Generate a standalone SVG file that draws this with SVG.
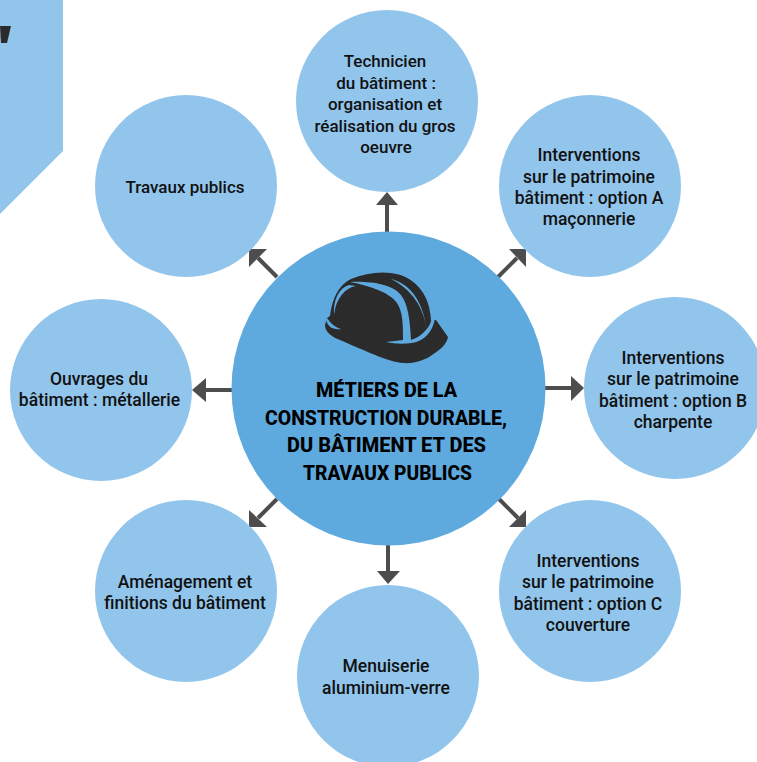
<svg xmlns="http://www.w3.org/2000/svg" width="757" height="762" viewBox="0 0 757 762">
<style>
.s{fill:#92c5ec}
.t{font-family:Roboto,"Liberation Sans",sans-serif;font-size:17.5px;font-weight:500;fill:#111;text-anchor:middle}
.n{font-size:17px}
.h{font-family:Roboto,"Liberation Sans",sans-serif;font-size:21px;font-weight:800;fill:#000;text-anchor:middle}
.c line{stroke:#4d4d4d;stroke-width:4}
.c path{fill:#4d4d4d}
.d{fill:#2b2b2b}
.b{fill:#5ea9de}
</style>
<g id="banner"><path class="s" d="M0 0H63V151L0 214Z"/><path class="d" d="M0 26H11L7 43H1Z"/></g>
<g id="connectors" class="c">
<line x1="387" y1="232" x2="387" y2="203"/><path d="M376 205L387 192L398 205Z"/>
<line x1="498" y1="277" x2="517" y2="258"/><path d="M509 249H526V267Z"/>
<line x1="545" y1="388" x2="573" y2="388"/><path d="M571 376L584 388L571 401Z"/>
<line x1="499" y1="499" x2="518" y2="518"/><path d="M526 510V527H509Z"/>
<line x1="388" y1="545" x2="388" y2="573"/><path d="M377 571L388 584L400 571Z"/>
<line x1="277" y1="499" x2="258" y2="518"/><path d="M267 527H249V510Z"/>
<line x1="232" y1="390" x2="204" y2="390"/><path d="M206 378L192 390L206 402Z"/>
<line x1="277" y1="277" x2="258" y2="258"/><path d="M267 249H249V267Z"/>
</g>
<g id="centre"><circle cx="388.500" cy="388.500" r="157" class="b"/>
<g id="helmet">
<path class="d" d="M330 316C332 298 339 285 351 279C372 270 398 270 412 281C424 290 430 303 431 320L436 320L448 337C447 344 440 350 432 355C425 360 414 364 403 363C390 362 372 354 340 340C332 337 325 332 325 325L327 318Z"/>
<path class="b" d="M350 282C370 281 392 284 401 295C408 304 410 320 411 340C418 338 426 332 430 324L432 318H435C433 332 424 341 412 343C403 344 395 344 386 342C392 341 398 341 403 340C403 325 403 312 397 303C389 292 370 286 350 282Z"/>
<path class="b" d="M356 286C345 288 336 298 334 315C333 300 339 288 349 285Z"/>
<path class="b" d="M391 279C407 283 422 296 427 330C423 306 412 290 391 279Z"/>
<path class="b" d="M327 318C331 324 335 327 341 329C333 330 328 327 326 320Z"/>
</g>
<text class="h"><tspan x="386.500" y="397" textLength="141" lengthAdjust="spacingAndGlyphs">MÉTIERS DE LA</tspan><tspan x="386" y="425" textLength="242" lengthAdjust="spacingAndGlyphs">CONSTRUCTION DURABLE,</tspan><tspan x="386.500" y="452" textLength="199" lengthAdjust="spacingAndGlyphs">DU BÂTIMENT ET DES</tspan><tspan x="387.500" y="480" textLength="169" lengthAdjust="spacingAndGlyphs">TRAVAUX PUBLICS</tspan></text></g>
<g id="n1"><circle class="s" cx="387" cy="101" r="91"/><text class="t n"><tspan x="385" y="67">Technicien</tspan><tspan x="386" y="89">du bâtiment :</tspan><tspan x="385" y="110">organisation et</tspan><tspan x="385" y="132">réalisation du gros</tspan><tspan x="386" y="153">oeuvre</tspan></text></g>
<g id="n2"><circle class="s" cx="590" cy="186" r="91"/><text class="t"><tspan x="589" y="161">Interventions</tspan><tspan x="589" y="183">sur le patrimoine</tspan><tspan x="589" y="204">bâtiment : option A</tspan><tspan x="589" y="225">maçonnerie</tspan></text></g>
<g id="n3"><circle class="s" cx="675" cy="388" r="91"/><text class="t"><tspan x="673" y="364">Interventions</tspan><tspan x="673" y="385">sur le patrimoine</tspan><tspan x="673" y="407">bâtiment : option B</tspan><tspan x="673" y="428">charpente</tspan></text></g>
<g id="n4"><circle class="s" cx="590" cy="591" r="91"/><text class="t"><tspan x="588" y="567">Interventions</tspan><tspan x="588" y="588">sur le patrimoine</tspan><tspan x="588" y="610">bâtiment : option C</tspan><tspan x="588" y="631">couverture</tspan></text></g>
<g id="n5"><circle class="s" cx="388" cy="676" r="91"/><text class="t"><tspan x="386" y="672">Menuiserie</tspan><tspan x="386" y="694">aluminium-verre</tspan></text></g>
<g id="n6"><circle class="s" cx="186" cy="591" r="91"/><text class="t"><tspan x="185" y="588">Aménagement et</tspan><tspan x="185" y="609">finitions du bâtiment</tspan></text></g>
<g id="n7"><circle class="s" cx="101" cy="390" r="91"/><text class="t"><tspan x="99" y="385">Ouvrages du</tspan><tspan x="99.500" y="406">bâtiment : métallerie</tspan></text></g>
<g id="n8"><circle class="s" cx="186" cy="186" r="91"/><text class="t n"><tspan x="185" y="193">Travaux publics</tspan></text></g>
</svg>
